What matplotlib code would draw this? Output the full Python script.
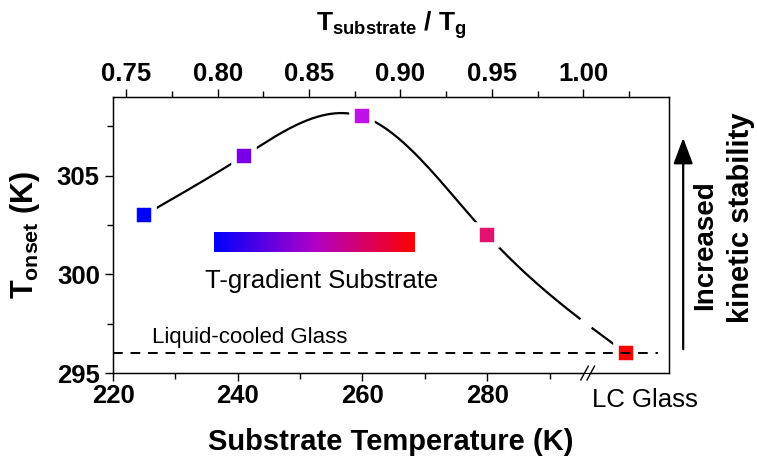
import numpy as np
import matplotlib
matplotlib.use("Agg")
import matplotlib.pyplot as plt
from matplotlib.colors import LinearSegmentedColormap
from matplotlib.patches import FancyArrowPatch, Polygon

plt.rcParams['font.family'] = ['Liberation Sans', 'DejaVu Sans']
plt.rcParams['mathtext.fontset'] = 'custom'
plt.rcParams['mathtext.rm'] = 'Liberation Sans'
plt.rcParams['mathtext.bf'] = 'Liberation Sans:bold'

# Onset temperatures of vapour-deposited glasses vs substrate temperature
t_sub = [225, 241, 260, 280]
t_onset = [303, 306, 308, 302]
sub_colors = ['#0000ff', '#7a00e8', '#c010ea', '#e3116f']

# liquid-cooled glass, plotted past the axis break
lc_pos = 302.3
lc_onset = 296
lc_color = '#ff0000'

bottom_ticks = [220, 240, 260, 280]
bottom_minor = [230, 250, 270, 290]
top_ticks = [0.75, 0.80, 0.85, 0.90, 0.95, 1.00]
top_minor = [0.775, 0.825, 0.875, 0.925, 0.975, 1.025]
y_ticks = [295, 300, 305]
y_minor = [297.5, 302.5, 307.5]
x_break = 295.6


def natural_spline(x, y, xs):
    x = np.asarray(x, float)
    y = np.asarray(y, float)
    n = len(x)
    h = np.diff(x)
    A = np.zeros((n, n))
    r = np.zeros(n)
    A[0, 0] = A[-1, -1] = 1
    for i in range(1, n - 1):
        A[i, i - 1] = h[i - 1]
        A[i, i] = 2 * (h[i - 1] + h[i])
        A[i, i + 1] = h[i]
        r[i] = 3 * ((y[i + 1] - y[i]) / h[i] - (y[i] - y[i - 1]) / h[i - 1])
    c = np.linalg.solve(A, r)
    b = (y[1:] - y[:-1]) / h - h * (2 * c[:-1] + c[1:]) / 3
    d = (c[1:] - c[:-1]) / (3 * h)
    idx = np.clip(np.searchsorted(x, xs) - 1, 0, n - 2)
    dx = xs - x[idx]
    return y[idx] + b[idx] * dx + c[idx] * dx**2 + d[idx] * dx**3


fig = plt.figure(figsize=(7.57, 4.65), dpi=100)
ax = fig.add_axes([0.1493, 0.1978, 0.7341, 0.5942])

# smooth guide line through all points, interrupted at the axis break
xp = t_sub + [lc_pos]
yp = t_onset + [lc_onset]
xs = np.linspace(xp[0], xp[-1], 600)
ys = natural_spline(xp, yp, xs)
ys[(xs > x_break - 0.7) & (xs < x_break + 1.2)] = np.nan
ax.plot(xs, ys, color='black', lw=1.6, zorder=2)

for x, y, c in zip(t_sub + [lc_pos], t_onset + [lc_onset], sub_colors + [lc_color]):
    ax.plot(x, y, marker='s', ms=15, mew=4, mec='white', mfc=c, ls='none', zorder=3)

ax.plot([220, 307.3], [lc_onset, lc_onset], color='black', lw=1.4,
        ls=(0, (5, 4)), zorder=4)

# gradient bar for the substrate
grad = LinearSegmentedColormap.from_list('tgrad', ['#0000ff', '#b000c8', '#ff0000'])
ax.imshow(np.linspace(0, 1, 256).reshape(1, -1), cmap=grad, aspect='auto',
          extent=[236.2, 268.4, 301.15, 302.15], zorder=1)
ax.text(253.5, 299.65, 'T-gradient Substrate', ha='center', va='center', fontsize=18.5)
ax.text(226.2, 296.8, 'Liquid-cooled Glass', ha='left', va='center', fontsize=16)
ax.text(305.3, -0.098, 'LC Glass', ha='center', va='center', fontsize=18.5,
        transform=ax.get_xaxis_transform())

ax.set_xlim(220, 309.1)
ax.set_ylim(295, 309)
ax.set_xticks(bottom_ticks)
ax.set_xticks(bottom_minor, minor=True)
ax.set_yticks(y_ticks)
ax.set_yticks(y_minor, minor=True)
ax.tick_params(which='both', direction='out', width=1, labelsize=18.5)
ax.tick_params(which='major', length=6)
ax.tick_params(which='minor', length=4)
ax.tick_params(axis='x', pad=2)
for lab in ax.get_xticklabels() + ax.get_yticklabels():
    lab.set_fontweight('bold')
for s in ax.spines.values():
    s.set_linewidth(1.0)

ax.set_xlabel('Substrate Temperature (K)', fontsize=21, fontweight='bold', labelpad=14)
ax.set_ylabel(r'$\mathbf{T_{onset}}$ (K)', fontsize=22, fontweight='bold')
ax.yaxis.set_label_coords(-0.128, 0.5)

# axis break marks
tr = ax.get_xaxis_transform()
ax.add_patch(Polygon([[x_break - 0.6, -0.02], [x_break + 0.6, 0.02],
                      [x_break + 1.6, 0.02], [x_break + 0.4, -0.02]],
                     closed=True, fc='white', ec='none', transform=tr,
                     clip_on=False, zorder=5))
for off in (-0.6, 0.4):
    ax.plot([x_break + off, x_break + off + 1.2], [-0.025, 0.025], color='black',
            lw=1.0, transform=tr, clip_on=False, zorder=6)

# reduced temperature on the top axis
top = ax.twiny()
top.set_xlim(0.7427, 1.0468)
top.set_xticks(top_ticks)
top.set_xticks(top_minor, minor=True)
top.set_xticklabels([f'{t:.2f}' for t in top_ticks], fontweight='bold')
top.tick_params(which='both', direction='out', width=1, labelsize=18.5)
top.tick_params(which='major', length=6)
top.tick_params(which='minor', length=4)
top.tick_params(axis='x', pad=2)
top.set_xlabel(r'$\mathbf{T_{substrate}}$ / $\mathbf{T_g}$', fontsize=19,
               fontweight='bold', labelpad=22)

# stability arrow on the right
arrow = FancyArrowPatch((1.026, 0.076), (1.026, 0.861), transform=ax.transAxes,
                        arrowstyle='-|>,head_length=0.8,head_width=0.3',
                        mutation_scale=20, lw=1.6, color='black', clip_on=False)
ax.add_patch(arrow)
fig.text(705 / 757, 1 - 245 / 465, 'Increased', rotation=90, ha='center',
         va='center', fontsize=20, fontweight='bold')
fig.text(741 / 757, 1 - 218 / 465, 'kinetic stability', rotation=90, ha='center',
         va='center', fontsize=21, fontweight='bold')

fig.savefig('out.png', dpi=100)
